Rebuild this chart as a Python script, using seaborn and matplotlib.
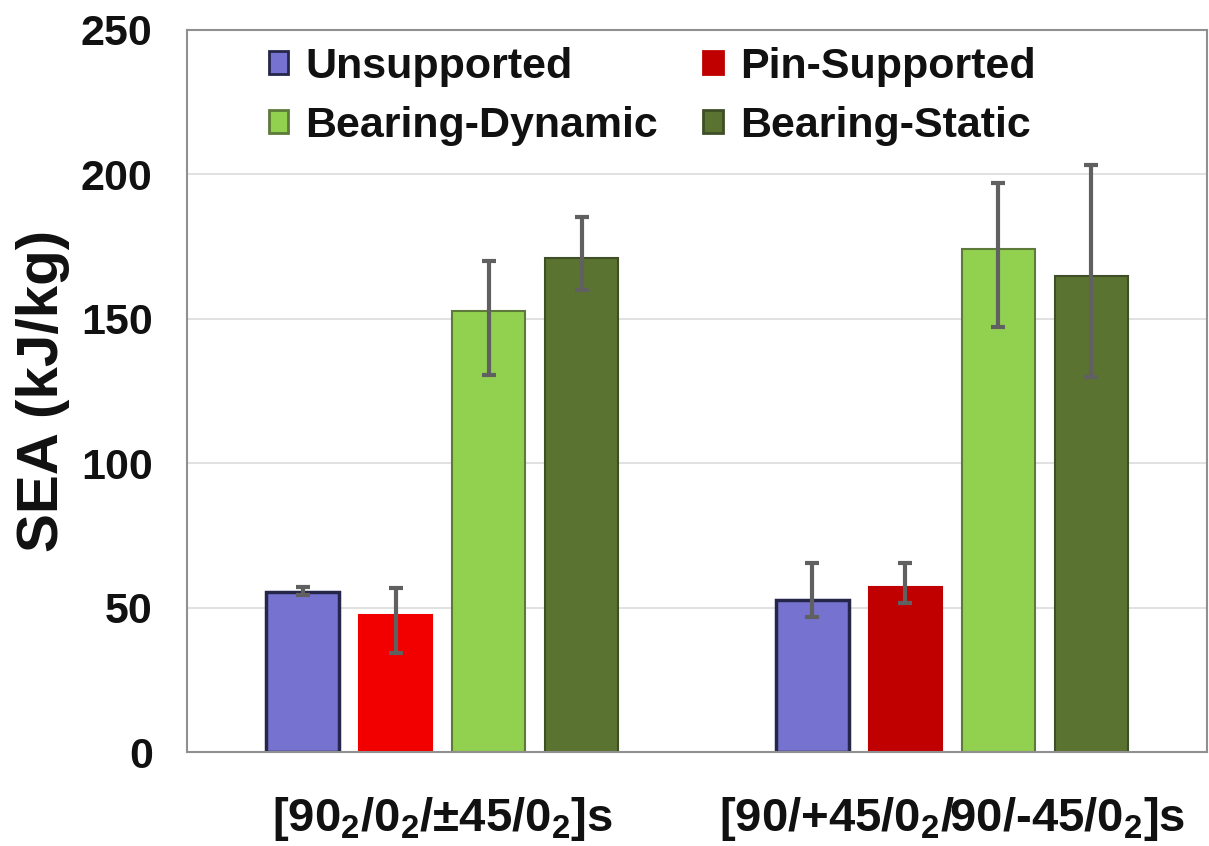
import pandas as pd
import seaborn as sns
import matplotlib.pyplot as plt
from matplotlib.patches import Patch

# values
layups = [r"[90$_2$/0$_2$/±45/0$_2$]s", r"[90/+45/0$_2$/90/-45/0$_2$]s"]
conditions = ["Unsupported", "Pin-Supported", "Bearing-Dynamic", "Bearing-Static"]
sea_g1 = [55.5, 47.4, 152.5, 171.0]
sea_g2 = [52.8, 57.2, 174.0, 164.8]
err_lo_g1 = [1.3, 13.0, 22.0, 11.2]
err_hi_g1 = [1.7, 9.4, 17.3, 14.2]
err_lo_g2 = [6.2, 5.6, 27.0, 35.0]
err_hi_g2 = [12.5, 8.2, 23.0, 38.5]

colors = ["#7672D0", "#C00000", "#92D050", "#5B7330"]
edges = ["#26264A", "#C00000", "#5E7A3A", "#3E4E26"]

df = pd.DataFrame({
    "layup": [layups[0]] * 4 + [layups[1]] * 4,
    "condition": conditions * 2,
    "sea": sea_g1 + sea_g2,
})

sns.set_style("white")
plt.rcParams["font.family"] = ["Liberation Sans", "DejaVu Sans"]
plt.rcParams["font.weight"] = "bold"
plt.rcParams["text.color"] = "#111111"
plt.rcParams["xtick.color"] = "#111111"
plt.rcParams["ytick.color"] = "#111111"
plt.rcParams["axes.labelcolor"] = "#111111"
plt.rcParams["mathtext.fontset"] = "custom"
plt.rcParams["mathtext.default"] = "bf"
plt.rcParams["mathtext.bf"] = "Liberation Sans:bold"

fig = plt.figure(figsize=(12.09, 8.46), dpi=100)
ax = fig.add_axes([0.155, 0.111, 0.843, 0.854])

sns.barplot(data=df, x="layup", y="sea", hue="condition", palette=colors,
            saturation=1, errorbar=None, width=0.73, gap=0.21, ax=ax,
            zorder=2, legend=False)

lo = [err_lo_g1, err_lo_g2]
hi = [err_hi_g1, err_hi_g2]
bar_conts = list(ax.containers)
for i, cont in enumerate(bar_conts):
    for j, bar in enumerate(cont.patches):
        bar.set_edgecolor(edges[i])
        bar.set_linewidth(2.5 if i == 0 else 1.5)
        if i == 1 and j == 0:
            bar.set_facecolor("#F20000")
            bar.set_edgecolor("#F20000")
        xc = bar.get_x() + bar.get_width() / 2
        ax.errorbar(xc, bar.get_height(), yerr=[[lo[j][i]], [hi[j][i]]],
                    fmt="none", ecolor="#606060", elinewidth=3,
                    capsize=5, capthick=3, zorder=3)

ax.set_xlim(-0.5, 1.5)
ax.set_ylim(0, 250)
ax.set_yticks([0, 50, 100, 150, 200, 250])
ax.yaxis.grid(True, color="#DCDCDC", lw=1.2, zorder=0)
ax.set_axisbelow(True)
for s in ax.spines.values():
    s.set_color("#909090")
    s.set_linewidth(1.5)

ax.tick_params(axis="y", length=0, labelsize=31, pad=25)
ax.tick_params(axis="x", length=0, labelsize=34, pad=31)
ax.set_xlabel("")
ax.set_ylabel("SEA (kJ/kg)", fontsize=42, fontweight="bold", labelpad=8)

# legend filled row by row, as in the original
handles = [Patch(facecolor=c, edgecolor=e, linewidth=2) for c, e in zip(colors, edges)]
order = [0, 2, 1, 3]
ax.legend([handles[k] for k in order], [conditions[k] for k in order],
          loc="upper left", ncol=2, frameon=False, fontsize=31,
          bbox_to_anchor=(0.063, 1.0), borderaxespad=0,
          handlelength=0.45, handleheight=0.45, handletextpad=0.4,
          columnspacing=1.05, labelspacing=0.45)

plt.savefig("out.png", dpi=100)
